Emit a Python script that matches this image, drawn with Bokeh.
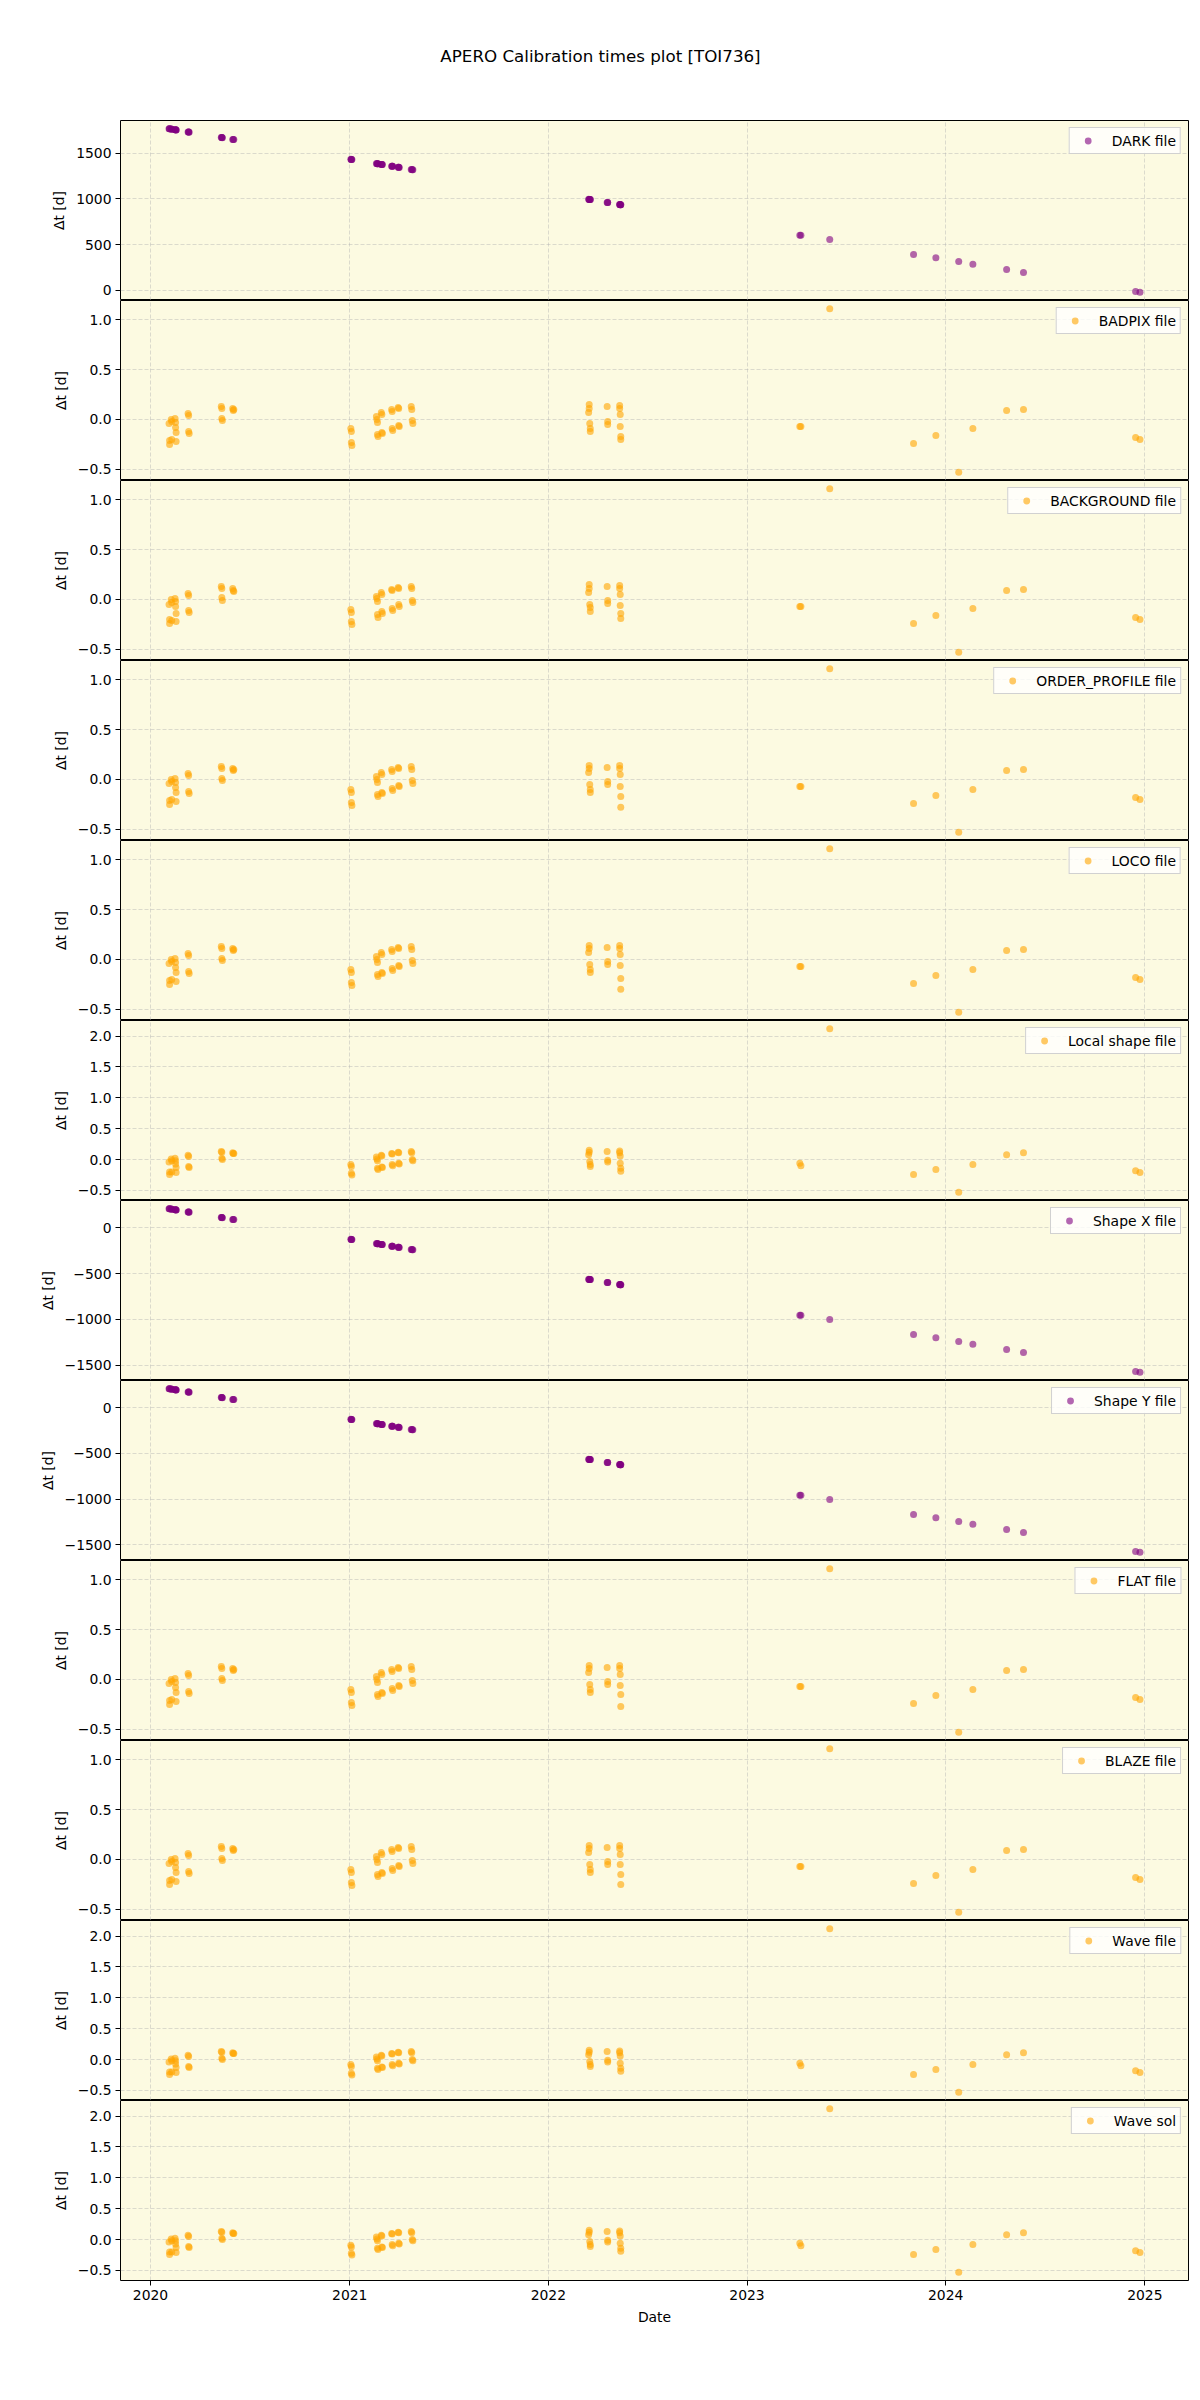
import pandas as pd
from bokeh.plotting import figure
from bokeh.layouts import column
from bokeh.models import Range1d, FixedTicker, CustomJSTickFormatter, Label
from bokeh.embed import file_html
from bokeh.resources import INLINE

TITLE = "APERO Calibration times plot [TOI736]"

obs_dates = [
    "2020-02-04", "2020-02-05", "2020-02-05",
    "2020-02-08", "2020-02-09", "2020-02-09",
    "2020-02-15", "2020-02-16", "2020-02-16", "2020-02-17", "2020-02-17",
    "2020-03-10", "2020-03-11", "2020-03-11", "2020-03-12",
    "2020-05-10", "2020-05-11", "2020-05-11", "2020-05-12",
    "2020-05-31", "2020-06-01", "2020-06-02",
    "2021-01-03", "2021-01-04", "2021-01-04", "2021-01-05",
    "2021-02-19", "2021-02-20", "2021-02-21", "2021-02-21", "2021-02-22",
    "2021-02-28", "2021-03-01", "2021-03-01", "2021-03-02",
    "2021-03-19", "2021-03-20", "2021-03-20", "2021-03-21",
    "2021-03-31", "2021-04-01", "2021-04-01", "2021-04-02",
    "2021-04-24", "2021-04-25", "2021-04-26", "2021-04-27",
    "2022-03-16", "2022-03-17", "2022-03-17", "2022-03-18", "2022-03-19", "2022-03-19",
    "2022-04-19", "2022-04-20", "2022-04-20",
    "2022-05-12", "2022-05-12", "2022-05-13", "2022-05-13", "2022-05-14", "2022-05-14",
    "2023-04-08", "2023-04-10", "2023-06-02", "2023-11-03", "2023-12-14", "2024-01-25",
    "2024-02-20", "2024-04-22", "2024-05-23", "2024-12-15", "2024-12-23",
]

dark_dt = [
    1766, 1765, 1765,
    1762, 1761, 1761,
    1754, 1753, 1753, 1752, 1752,
    1730, 1729, 1729, 1728,
    1670, 1669, 1669, 1668,
    1649, 1648, 1647,
    1432, 1431, 1431, 1430,
    1385, 1384, 1383, 1383, 1382,
    1376, 1375, 1375, 1374,
    1357, 1356, 1356, 1355,
    1345, 1344, 1344, 1343,
    1321, 1320, 1319, 1318,
    995, 994, 994, 993, 992, 992,
    961, 960, 960,
    938, 938, 937, 937, 936, 936,
    604, 602, 556, 394, 358, 316, 286, 228, 196, -11, -20,
]

badpix_dt = [
    -0.04, -0.21, -0.25,
    0.00, -0.02, -0.20,
    0.01, -0.03, -0.08, -0.13, -0.22,
    0.06, 0.04, -0.12, -0.14,
    0.13, 0.11, 0.01, -0.01,
    0.11, 0.09, 0.10,
    -0.09, -0.12, -0.23, -0.26,
    0.03, 0.00, -0.03, -0.15, -0.17,
    0.07, 0.05, -0.13, -0.14,
    0.10, 0.08, -0.09, -0.11,
    0.12, 0.11, -0.06, -0.07,
    0.13, 0.10, -0.01, -0.04,
    0.07, 0.11, 0.15, -0.04, -0.09, -0.12,
    0.13, -0.02, -0.05,
    0.14, 0.11, 0.05, -0.07, -0.17, -0.20,
    -0.07, -0.07, 1.11, -0.24, -0.16, -0.53, -0.09, 0.09, 0.10, -0.18, -0.20,
]

background_dt = [
    -0.05, -0.20, -0.24,
    0.00, -0.03, -0.21,
    0.01, -0.02, -0.07, -0.14, -0.22,
    0.06, 0.04, -0.11, -0.13,
    0.13, 0.11, 0.02, -0.01,
    0.11, 0.09, 0.08,
    -0.10, -0.13, -0.22, -0.25,
    0.03, 0.01, -0.02, -0.15, -0.18,
    0.07, 0.05, -0.12, -0.14,
    0.10, 0.09, -0.09, -0.11,
    0.12, 0.11, -0.05, -0.07,
    0.13, 0.11, -0.01, -0.03,
    0.07, 0.11, 0.15, -0.05, -0.08, -0.12,
    0.13, -0.01, -0.04,
    0.14, 0.11, 0.05, -0.06, -0.14, -0.19,
    -0.07, -0.07, 1.11, -0.24, -0.16, -0.53, -0.09, 0.09, 0.10, -0.18, -0.20,
]

order_profile_dt = [
    -0.04, -0.21, -0.25,
    0.00, -0.02, -0.20,
    0.01, -0.03, -0.08, -0.13, -0.22,
    0.06, 0.04, -0.12, -0.14,
    0.13, 0.11, 0.01, -0.01,
    0.11, 0.09, 0.10,
    -0.10, -0.13, -0.23, -0.26,
    0.03, 0.00, -0.03, -0.15, -0.17,
    0.07, 0.05, -0.13, -0.14,
    0.10, 0.08, -0.09, -0.11,
    0.12, 0.11, -0.06, -0.07,
    0.13, 0.10, -0.01, -0.04,
    0.07, 0.11, 0.14, -0.05, -0.10, -0.13,
    0.12, -0.02, -0.05,
    0.14, 0.11, 0.05, -0.07, -0.17, -0.28,
    -0.07, -0.07, 1.11, -0.24, -0.16, -0.53, -0.10, 0.09, 0.10, -0.18, -0.20,
]

loco_dt = [
    -0.04, -0.21, -0.25,
    0.00, -0.02, -0.20,
    0.01, -0.03, -0.08, -0.13, -0.22,
    0.06, 0.04, -0.12, -0.14,
    0.13, 0.11, 0.01, -0.01,
    0.11, 0.09, 0.10,
    -0.10, -0.13, -0.23, -0.26,
    0.03, 0.00, -0.03, -0.15, -0.17,
    0.07, 0.05, -0.13, -0.14,
    0.10, 0.08, -0.09, -0.11,
    0.12, 0.11, -0.06, -0.07,
    0.13, 0.10, -0.01, -0.04,
    0.07, 0.11, 0.14, -0.05, -0.10, -0.13,
    0.12, -0.02, -0.05,
    0.14, 0.11, 0.05, -0.06, -0.19, -0.30,
    -0.07, -0.07, 1.11, -0.24, -0.16, -0.53, -0.10, 0.09, 0.10, -0.18, -0.20,
]

local_shape_dt = [
    -0.04, -0.20, -0.24,
    0.01, -0.02, -0.20,
    0.02, -0.02, -0.07, -0.13, -0.21,
    0.07, 0.05, -0.11, -0.13,
    0.13, 0.12, 0.02, 0.00,
    0.11, 0.10, 0.10,
    -0.08, -0.11, -0.22, -0.25,
    0.04, 0.01, -0.02, -0.14, -0.16,
    0.07, 0.06, -0.12, -0.13,
    0.10, 0.09, -0.08, -0.10,
    0.12, 0.11, -0.06, -0.07,
    0.13, 0.11, 0.00, -0.02,
    0.08, 0.12, 0.15, -0.03, -0.08, -0.11,
    0.13, -0.01, -0.04,
    0.14, 0.11, 0.06, -0.06, -0.14, -0.19,
    -0.06, -0.10, 2.12, -0.24, -0.16, -0.53, -0.08, 0.08, 0.11, -0.18, -0.21,
]

shape_x_dt = [
    208, 207, 207,
    204, 203, 203,
    196, 195, 195, 194, 194,
    172, 171, 171, 170,
    112, 111, 111, 110,
    91, 90, 89,
    -126, -127, -127, -128,
    -173, -174, -175, -175, -176,
    -182, -183, -183, -184,
    -201, -202, -202, -203,
    -213, -214, -214, -215,
    -237, -238, -239, -240,
    -563, -564, -564, -565, -566, -566,
    -597, -598, -598,
    -620, -620, -621, -621, -622, -622,
    -954, -956, -1002, -1164, -1200, -1242, -1272, -1330, -1362, -1569, -1578,
]

shape_y_dt = [
    206, 205, 205,
    202, 201, 201,
    194, 193, 193, 192, 192,
    170, 169, 169, 168,
    110, 109, 109, 108,
    89, 88, 87,
    -128, -129, -129, -130,
    -175, -176, -177, -177, -178,
    -184, -185, -185, -186,
    -203, -204, -204, -205,
    -215, -216, -216, -217,
    -239, -240, -241, -242,
    -565, -566, -566, -567, -568, -568,
    -599, -600, -600,
    -622, -622, -623, -623, -624, -624,
    -956, -958, -1004, -1166, -1202, -1244, -1274, -1332, -1364, -1571, -1580,
]

flat_dt = [
    -0.04, -0.21, -0.25,
    0.00, -0.02, -0.20,
    0.01, -0.03, -0.08, -0.13, -0.22,
    0.06, 0.04, -0.12, -0.14,
    0.13, 0.11, 0.01, -0.01,
    0.11, 0.09, 0.10,
    -0.10, -0.13, -0.23, -0.26,
    0.03, 0.00, -0.03, -0.15, -0.17,
    0.07, 0.05, -0.13, -0.14,
    0.10, 0.08, -0.09, -0.11,
    0.12, 0.11, -0.06, -0.07,
    0.13, 0.10, -0.01, -0.04,
    0.07, 0.11, 0.14, -0.05, -0.10, -0.13,
    0.12, -0.02, -0.05,
    0.14, 0.11, 0.05, -0.06, -0.15, -0.27,
    -0.07, -0.07, 1.11, -0.24, -0.16, -0.53, -0.10, 0.09, 0.10, -0.18, -0.20,
]

blaze_dt = [
    -0.04, -0.21, -0.25,
    0.00, -0.02, -0.20,
    0.01, -0.03, -0.08, -0.13, -0.22,
    0.06, 0.04, -0.12, -0.14,
    0.13, 0.11, 0.01, -0.01,
    0.11, 0.09, 0.10,
    -0.10, -0.13, -0.23, -0.26,
    0.03, 0.00, -0.03, -0.15, -0.17,
    0.07, 0.05, -0.13, -0.14,
    0.10, 0.08, -0.09, -0.11,
    0.12, 0.11, -0.06, -0.07,
    0.13, 0.10, -0.01, -0.04,
    0.07, 0.11, 0.14, -0.05, -0.10, -0.13,
    0.12, -0.02, -0.05,
    0.14, 0.11, 0.05, -0.05, -0.15, -0.25,
    -0.07, -0.07, 1.11, -0.24, -0.16, -0.53, -0.10, 0.09, 0.10, -0.18, -0.20,
]

wave_file_dt = [
    -0.04, -0.20, -0.24,
    0.01, -0.02, -0.20,
    0.02, -0.02, -0.07, -0.13, -0.21,
    0.07, 0.05, -0.11, -0.13,
    0.13, 0.12, 0.02, 0.00,
    0.11, 0.10, 0.10,
    -0.08, -0.11, -0.22, -0.25,
    0.04, 0.01, -0.02, -0.14, -0.16,
    0.07, 0.06, -0.12, -0.13,
    0.10, 0.09, -0.08, -0.10,
    0.12, 0.11, -0.06, -0.07,
    0.13, 0.11, 0.00, -0.02,
    0.08, 0.12, 0.15, -0.03, -0.08, -0.11,
    0.13, -0.01, -0.04,
    0.14, 0.11, 0.06, -0.06, -0.14, -0.19,
    -0.06, -0.10, 2.12, -0.24, -0.16, -0.53, -0.08, 0.08, 0.11, -0.18, -0.21,
]

wave_sol_dt = [
    -0.04, -0.20, -0.24,
    0.01, -0.02, -0.20,
    0.02, -0.02, -0.07, -0.13, -0.21,
    0.07, 0.05, -0.11, -0.13,
    0.13, 0.12, 0.02, 0.00,
    0.11, 0.10, 0.10,
    -0.09, -0.12, -0.22, -0.25,
    0.04, 0.01, -0.02, -0.14, -0.16,
    0.07, 0.06, -0.12, -0.13,
    0.10, 0.09, -0.08, -0.10,
    0.12, 0.11, -0.06, -0.07,
    0.13, 0.11, 0.00, -0.02,
    0.08, 0.12, 0.15, -0.03, -0.08, -0.11,
    0.13, -0.01, -0.04,
    0.14, 0.11, 0.06, -0.06, -0.14, -0.19,
    -0.06, -0.10, 2.12, -0.24, -0.16, -0.53, -0.08, 0.08, 0.11, -0.18, -0.21,
]

panel_labels = ["DARK file", "BADPIX file", "BACKGROUND file", "ORDER_PROFILE file",
                "LOCO file", "Local shape file", "Shape X file", "Shape Y file",
                "FLAT file", "BLAZE file", "Wave file", "Wave sol"]
panel_values = [dark_dt, badpix_dt, background_dt, order_profile_dt, loco_dt,
                local_shape_dt, shape_x_dt, shape_y_dt, flat_dt, blaze_dt,
                wave_file_dt, wave_sol_dt]
panel_colors = ["purple", "orange", "orange", "orange", "orange", "orange",
                "purple", "purple", "orange", "orange", "orange", "orange"]

dark_ticks = [0, 500, 1000, 1500]
shape_ticks = [-1500, -1000, -500, 0]
small_ticks = [-0.5, 0.0, 0.5, 1.0]
large_ticks = [-0.5, 0.0, 0.5, 1.0, 1.5, 2.0]
panel_ticks = [dark_ticks, small_ticks, small_ticks, small_ticks, small_ticks,
               large_ticks, shape_ticks, shape_ticks, small_ticks, small_ticks,
               large_ticks, large_ticks]
panel_digits = [0, 1, 1, 1, 1, 1, 0, 0, 1, 1, 1, 1]

year_ticks = [2020, 2021, 2022, 2023, 2024, 2025]

FONT = "DejaVu Sans"
BG = "#fcfae1"

x = pd.to_datetime(obs_dates)
xspan = x.max() - x.min()
x_range = Range1d(x.min() - 0.05 * xspan, x.max() + 0.05 * xspan)
year_ms = [pd.Timestamp(f"{y}-01-01").value / 1e6 for y in year_ticks]

FRAME_W = 1068
FRAME_H = 180
LEFT = 120
RIGHT = 12

# title header (frame aligned with the panels; x in canvas pixels)
header = figure(frame_width=FRAME_W, frame_height=120,
                x_range=Range1d(LEFT, LEFT + FRAME_W), y_range=Range1d(0, 120),
                x_axis_type=None, y_axis_type=None, toolbar_location=None,
                output_backend="svg", min_border_left=LEFT, min_border_right=RIGHT,
                min_border_top=0, min_border_bottom=0, outline_line_color=None)
header.add_layout(Label(x=600, y=65, text=TITLE, text_align="center",
                        text_baseline="middle", text_font=FONT,
                        text_font_size="16.7px", text_color="black"))

panels = [header]
n = len(panel_labels)
for i in range(n):
    vals = panel_values[i]
    lo, hi = min(vals), max(vals)
    pad = 0.05 * (hi - lo)
    bottom = (i == n - 1)
    p = figure(frame_width=FRAME_W, frame_height=FRAME_H, x_axis_type="datetime",
               x_range=x_range, y_range=Range1d(lo - pad, hi + pad),
               toolbar_location=None, output_backend="svg",
               min_border_left=LEFT, min_border_right=RIGHT, min_border_top=0,
               min_border_bottom=120 if bottom else 0)
    p.scatter(x, vals, size=7, fill_color=panel_colors[i], line_color=None,
              fill_alpha=0.6, legend_label=panel_labels[i])

    p.background_fill_color = BG
    p.border_fill_color = "white"
    p.outline_line_color = "black"
    p.outline_line_width = 1

    yt = FixedTicker(ticks=panel_ticks[i])
    p.yaxis.ticker = yt
    p.ygrid.ticker = yt
    p.yaxis.formatter = CustomJSTickFormatter(
        args=dict(d=panel_digits[i]),
        code="return tick.toFixed(d).replace('-', '\u2212');")
    p.yaxis.axis_label = "Δt [d]"

    xt = FixedTicker(ticks=year_ms)
    p.xaxis.ticker = xt
    p.xgrid.ticker = xt
    if bottom:
        p.xaxis.major_label_overrides = {ms: str(y) for ms, y in zip(year_ms, year_ticks)}
        p.xaxis.axis_label = "Date"
    else:
        p.xaxis.visible = False

    for ax in p.axis:
        ax.axis_line_color = None
        ax.major_tick_out = 5
        ax.major_tick_in = 0
        ax.minor_tick_out = 0
        ax.minor_tick_in = 0
        ax.major_tick_line_color = "black"
        ax.major_label_text_font = FONT
        ax.major_label_text_font_size = "13.9px"
        ax.major_label_text_color = "black"
        ax.major_label_standoff = 4
        ax.axis_label_text_font = FONT
        ax.axis_label_text_font_size = "13.9px"
        ax.axis_label_text_font_style = "normal"
        ax.axis_label_text_color = "black"
        ax.axis_label_standoff = 6

    for g in (p.xgrid, p.ygrid):
        g.grid_line_color = "#b0b0b0"
        g.grid_line_alpha = 0.55
        g.grid_line_dash = "4 2"
        g.grid_line_width = 0.8

    lg = p.legend[0]
    lg.location = "top_right"
    lg.margin = 7
    lg.padding = 4
    lg.spacing = 0
    lg.glyph_width = 28
    lg.glyph_height = 17
    lg.label_height = 17
    lg.label_standoff = 10
    lg.border_line_color = "#cccccc"
    lg.border_line_alpha = 0.9
    lg.background_fill_color = "white"
    lg.background_fill_alpha = 0.8
    lg.label_text_font = FONT
    lg.label_text_font_size = "13.9px"
    lg.label_text_color = "black"

    panels.append(p)

layout = column(*panels, spacing=0)
open("out.html", "w").write(file_html(layout, INLINE))
